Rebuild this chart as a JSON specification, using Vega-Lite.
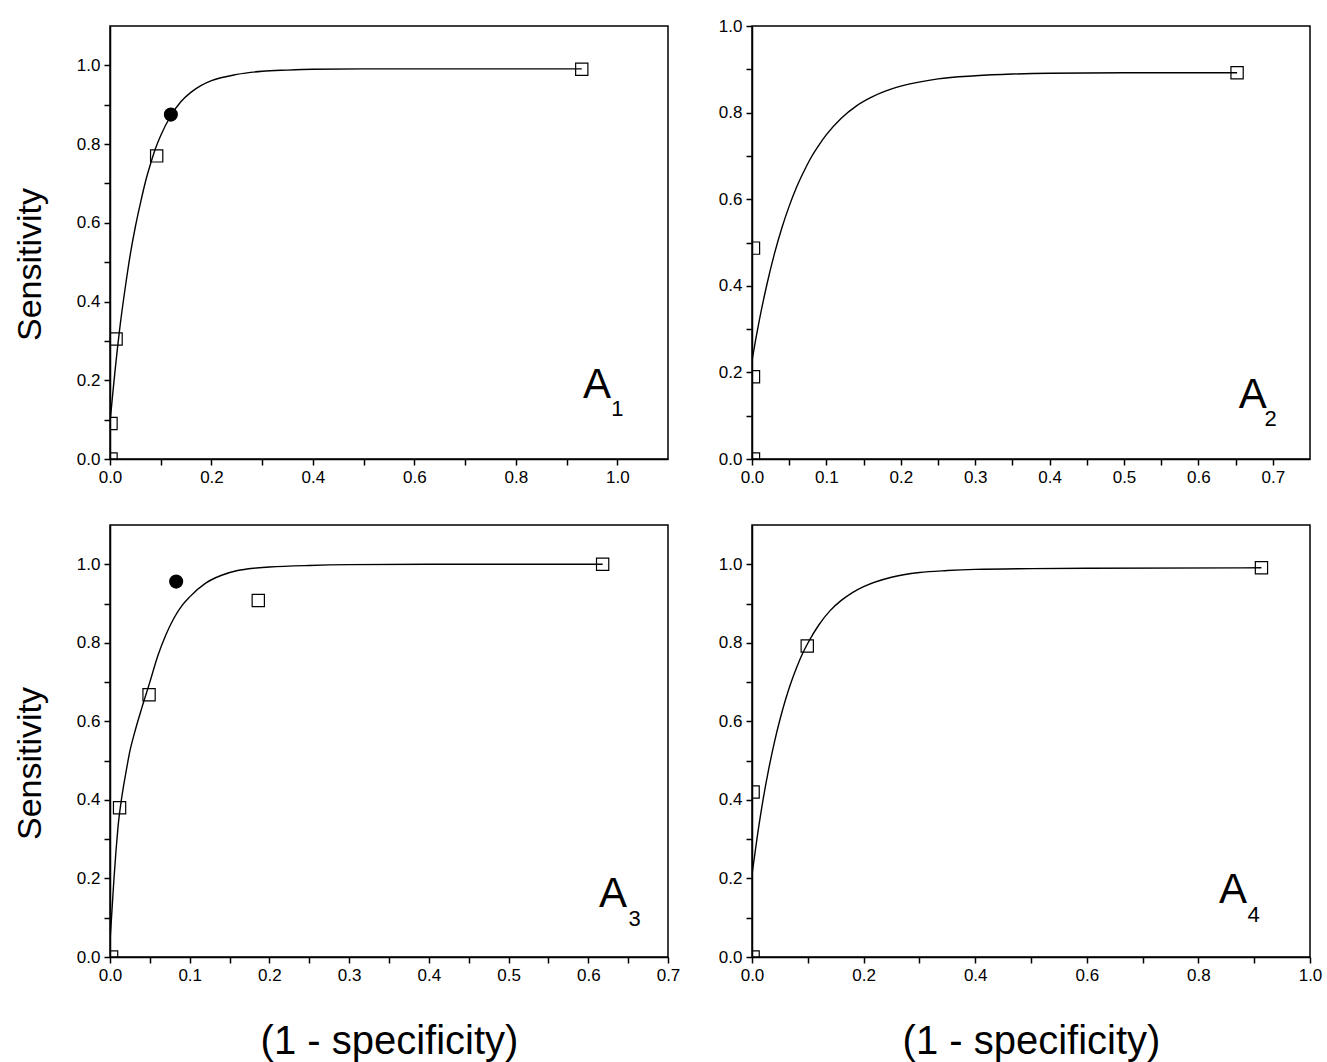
{
  "$schema": "https://vega.github.io/schema/vega-lite/v6.json",
  "background": "white",
  "padding": {"left": 12, "top": 16, "right": 5, "bottom": 0},
  "bounds": "flush",
  "columns": 2,
  "spacing": {"row": 66, "column": 84},
  "config": {
    "font": "Liberation Sans",
    "view": {"stroke": "black", "strokeWidth": 1.5},
    "axis": {
      "domainColor": "black", "domainWidth": 1.5,
      "tickColor": "black", "tickWidth": 1.5, "tickSize": 6,
      "labelColor": "black", "labelFont": "Liberation Sans",
      "labelFontSize": 17, "labelPadding": 4, "labelFlush": false, "labelOverlap": false,
      "grid": false, "titleColor": "black", "titleFont": "Liberation Sans", "titleFontWeight": "normal"
    }
  },
  "concat": [
    {
      "width": 558, "height": 433,
      "encoding": {
        "x": {"field": "fpr", "type": "quantitative", "scale": {"domain": [0, 1.1], "nice": false, "zero": false},
          "axis": {"values": [0,0.1,0.2,0.3,0.4,0.5,0.6,0.7,0.8,0.9,1.0], "format": ".1f", "labelExpr": "round(datum.value*10)%2==0 ? datum.label : ''", "title": null}},
        "y": {"field": "tpr", "type": "quantitative", "scale": {"domain": [0, 1.1], "nice": false, "zero": false},
          "axis": {"values": [0,0.1,0.2,0.3,0.4,0.5,0.6,0.7,0.8,0.9,1.0], "format": ".1f", "labelExpr": "round(datum.value*10)%2==0 ? datum.label : ''", "title": "Sensitivity", "titleFontSize": 34, "titlePadding": 29, "titleY": 238}}
      },
      "layer": [
        {"data": {"values": [
          {"fpr": 0, "tpr": 0.093}, {"fpr": 0.005, "tpr": 0.16}, {"fpr": 0.01, "tpr": 0.225}, {"fpr": 0.015, "tpr": 0.285},
          {"fpr": 0.02, "tpr": 0.34}, {"fpr": 0.03, "tpr": 0.435}, {"fpr": 0.04, "tpr": 0.52}, {"fpr": 0.05, "tpr": 0.59},
          {"fpr": 0.06, "tpr": 0.65}, {"fpr": 0.07, "tpr": 0.705}, {"fpr": 0.08, "tpr": 0.75}, {"fpr": 0.09, "tpr": 0.79},
          {"fpr": 0.1, "tpr": 0.822}, {"fpr": 0.12, "tpr": 0.872}, {"fpr": 0.14, "tpr": 0.908}, {"fpr": 0.16, "tpr": 0.932},
          {"fpr": 0.18, "tpr": 0.949}, {"fpr": 0.2, "tpr": 0.961}, {"fpr": 0.25, "tpr": 0.977}, {"fpr": 0.3, "tpr": 0.985},
          {"fpr": 0.35, "tpr": 0.988}, {"fpr": 0.4, "tpr": 0.99}, {"fpr": 0.5, "tpr": 0.991}, {"fpr": 0.7, "tpr": 0.991},
          {"fpr": 0.93, "tpr": 0.991}]},
          "mark": {"type": "line", "color": "black", "strokeWidth": 1.4, "interpolate": "monotone", "clip": true}},
        {"data": {"values": [
          {"fpr": 0.002, "tpr": 0}, {"fpr": 0.002, "tpr": 0.09}, {"fpr": 0.012, "tpr": 0.305}, {"fpr": 0.092, "tpr": 0.77}, {"fpr": 0.93, "tpr": 0.99}]},
          "mark": {"type": "point", "shape": "square", "filled": false, "color": "black", "size": 150, "strokeWidth": 1.2, "opacity": 1, "clip": true}},
        {"data": {"values": [{"fpr": 0.12, "tpr": 0.875}]},
          "mark": {"type": "point", "shape": "circle", "filled": true, "color": "black", "size": 200, "opacity": 1}},
        {"data": {"values": [{"fpr": 0.96, "tpr": 0.155, "t": "A"}]},
          "mark": {"type": "text", "fontSize": 42, "align": "center", "baseline": "alphabetic", "font": "Liberation Sans", "color": "black"},
          "encoding": {"text": {"field": "t"}}},
        {"data": {"values": [{"fpr": 1.0, "tpr": 0.108, "t": "1"}]},
          "mark": {"type": "text", "fontSize": 22, "align": "center", "baseline": "alphabetic", "font": "Liberation Sans", "color": "black"},
          "encoding": {"text": {"field": "t"}}}
      ]
    },
    {
      "width": 558, "height": 433,
      "encoding": {
        "x": {"field": "fpr", "type": "quantitative", "scale": {"domain": [0, 0.75], "nice": false, "zero": false},
          "axis": {"values": [0,0.05,0.1,0.15,0.2,0.25,0.3,0.35,0.4,0.45,0.5,0.55,0.6,0.65,0.7], "format": ".1f", "labelExpr": "round(datum.value*20)%2==0 ? datum.label : ''", "title": null}},
        "y": {"field": "tpr", "type": "quantitative", "scale": {"domain": [0, 1.0], "nice": false, "zero": false},
          "axis": {"values": [0,0.1,0.2,0.3,0.4,0.5,0.6,0.7,0.8,0.9,1.0], "format": ".1f", "labelExpr": "round(datum.value*10)%2==0 ? datum.label : ''", "title": null}}
      },
      "layer": [
        {"data": {"values": [
          {"fpr": 0, "tpr": 0.227}, {"fpr": 0.005, "tpr": 0.276}, {"fpr": 0.01, "tpr": 0.322}, {"fpr": 0.02, "tpr": 0.403},
          {"fpr": 0.03, "tpr": 0.473}, {"fpr": 0.04, "tpr": 0.533}, {"fpr": 0.05, "tpr": 0.584}, {"fpr": 0.06, "tpr": 0.628},
          {"fpr": 0.07, "tpr": 0.665}, {"fpr": 0.08, "tpr": 0.698}, {"fpr": 0.09, "tpr": 0.725}, {"fpr": 0.1, "tpr": 0.749},
          {"fpr": 0.12, "tpr": 0.787}, {"fpr": 0.14, "tpr": 0.815}, {"fpr": 0.16, "tpr": 0.835}, {"fpr": 0.18, "tpr": 0.85},
          {"fpr": 0.2, "tpr": 0.861}, {"fpr": 0.25, "tpr": 0.878}, {"fpr": 0.3, "tpr": 0.885}, {"fpr": 0.35, "tpr": 0.889},
          {"fpr": 0.4, "tpr": 0.891}, {"fpr": 0.5, "tpr": 0.892}, {"fpr": 0.652, "tpr": 0.892}]},
          "mark": {"type": "line", "color": "black", "strokeWidth": 1.4, "interpolate": "monotone", "clip": true}},
        {"data": {"values": [
          {"fpr": 0.002, "tpr": 0}, {"fpr": 0.002, "tpr": 0.19}, {"fpr": 0.002, "tpr": 0.487}, {"fpr": 0.652, "tpr": 0.892}]},
          "mark": {"type": "point", "shape": "square", "filled": false, "color": "black", "size": 150, "strokeWidth": 1.2, "opacity": 1, "clip": true}},
        {"data": {"values": [{"fpr": 0.673, "tpr": 0.118, "t": "A"}]},
          "mark": {"type": "text", "fontSize": 42, "align": "center", "baseline": "alphabetic", "font": "Liberation Sans", "color": "black"},
          "encoding": {"text": {"field": "t"}}},
        {"data": {"values": [{"fpr": 0.697, "tpr": 0.077, "t": "2"}]},
          "mark": {"type": "text", "fontSize": 22, "align": "center", "baseline": "alphabetic", "font": "Liberation Sans", "color": "black"},
          "encoding": {"text": {"field": "t"}}}
      ]
    },
    {
      "width": 558, "height": 432,
      "encoding": {
        "x": {"field": "fpr", "type": "quantitative", "scale": {"domain": [0, 0.7], "nice": false, "zero": false},
          "axis": {"values": [0,0.05,0.1,0.15,0.2,0.25,0.3,0.35,0.4,0.45,0.5,0.55,0.6,0.65,0.7], "format": ".1f", "labelExpr": "round(datum.value*20)%2==0 ? datum.label : ''", "title": "(1 - specificity)", "titleFontSize": 40, "titlePadding": 38}},
        "y": {"field": "tpr", "type": "quantitative", "scale": {"domain": [0, 1.1], "nice": false, "zero": false},
          "axis": {"values": [0,0.1,0.2,0.3,0.4,0.5,0.6,0.7,0.8,0.9,1.0], "format": ".1f", "labelExpr": "round(datum.value*10)%2==0 ? datum.label : ''", "title": "Sensitivity", "titleFontSize": 34, "titlePadding": 29, "titleY": 238}}
      },
      "layer": [
        {"data": {"values": [
          {"fpr": 0, "tpr": 0.04}, {"fpr": 0.0025, "tpr": 0.12}, {"fpr": 0.005, "tpr": 0.2}, {"fpr": 0.0075, "tpr": 0.27},
          {"fpr": 0.01, "tpr": 0.33}, {"fpr": 0.015, "tpr": 0.41}, {"fpr": 0.02, "tpr": 0.47}, {"fpr": 0.025, "tpr": 0.525},
          {"fpr": 0.03, "tpr": 0.565}, {"fpr": 0.04, "tpr": 0.635}, {"fpr": 0.05, "tpr": 0.7}, {"fpr": 0.06, "tpr": 0.767},
          {"fpr": 0.07, "tpr": 0.82}, {"fpr": 0.08, "tpr": 0.862}, {"fpr": 0.09, "tpr": 0.894}, {"fpr": 0.1, "tpr": 0.917},
          {"fpr": 0.12, "tpr": 0.952}, {"fpr": 0.14, "tpr": 0.972}, {"fpr": 0.16, "tpr": 0.984}, {"fpr": 0.18, "tpr": 0.99},
          {"fpr": 0.2, "tpr": 0.993}, {"fpr": 0.25, "tpr": 0.997}, {"fpr": 0.3, "tpr": 0.999}, {"fpr": 0.4, "tpr": 1.0},
          {"fpr": 0.618, "tpr": 1.0}]},
          "mark": {"type": "line", "color": "black", "strokeWidth": 1.4, "interpolate": "monotone", "clip": true}},
        {"data": {"values": [
          {"fpr": 0.002, "tpr": 0}, {"fpr": 0.012, "tpr": 0.38}, {"fpr": 0.049, "tpr": 0.668}, {"fpr": 0.186, "tpr": 0.908}, {"fpr": 0.618, "tpr": 1.0}]},
          "mark": {"type": "point", "shape": "square", "filled": false, "color": "black", "size": 150, "strokeWidth": 1.2, "opacity": 1, "clip": true}},
        {"data": {"values": [{"fpr": 0.083, "tpr": 0.956}]},
          "mark": {"type": "point", "shape": "circle", "filled": true, "color": "black", "size": 200, "opacity": 1}},
        {"data": {"values": [{"fpr": 0.631, "tpr": 0.128, "t": "A"}]},
          "mark": {"type": "text", "fontSize": 42, "align": "center", "baseline": "alphabetic", "font": "Liberation Sans", "color": "black"},
          "encoding": {"text": {"field": "t"}}},
        {"data": {"values": [{"fpr": 0.658, "tpr": 0.08, "t": "3"}]},
          "mark": {"type": "text", "fontSize": 22, "align": "center", "baseline": "alphabetic", "font": "Liberation Sans", "color": "black"},
          "encoding": {"text": {"field": "t"}}}
      ]
    },
    {
      "width": 558, "height": 432,
      "encoding": {
        "x": {"field": "fpr", "type": "quantitative", "scale": {"domain": [0, 1.0], "nice": false, "zero": false},
          "axis": {"values": [0,0.1,0.2,0.3,0.4,0.5,0.6,0.7,0.8,0.9,1.0], "format": ".1f", "labelExpr": "round(datum.value*10)%2==0 ? datum.label : ''", "title": "(1 - specificity)", "titleFontSize": 40, "titlePadding": 38}},
        "y": {"field": "tpr", "type": "quantitative", "scale": {"domain": [0, 1.1], "nice": false, "zero": false},
          "axis": {"values": [0,0.1,0.2,0.3,0.4,0.5,0.6,0.7,0.8,0.9,1.0], "format": ".1f", "labelExpr": "round(datum.value*10)%2==0 ? datum.label : ''", "title": null}}
      },
      "layer": [
        {"data": {"values": [
          {"fpr": 0, "tpr": 0.21}, {"fpr": 0.01, "tpr": 0.312}, {"fpr": 0.02, "tpr": 0.402}, {"fpr": 0.03, "tpr": 0.479},
          {"fpr": 0.04, "tpr": 0.546}, {"fpr": 0.05, "tpr": 0.604}, {"fpr": 0.06, "tpr": 0.655}, {"fpr": 0.07, "tpr": 0.699},
          {"fpr": 0.08, "tpr": 0.737}, {"fpr": 0.09, "tpr": 0.771}, {"fpr": 0.1, "tpr": 0.799}, {"fpr": 0.12, "tpr": 0.846},
          {"fpr": 0.14, "tpr": 0.882}, {"fpr": 0.16, "tpr": 0.908}, {"fpr": 0.18, "tpr": 0.928}, {"fpr": 0.2, "tpr": 0.943},
          {"fpr": 0.25, "tpr": 0.967}, {"fpr": 0.3, "tpr": 0.979}, {"fpr": 0.35, "tpr": 0.984}, {"fpr": 0.4, "tpr": 0.987},
          {"fpr": 0.5, "tpr": 0.989}, {"fpr": 0.6, "tpr": 0.99}, {"fpr": 0.913, "tpr": 0.991}]},
          "mark": {"type": "line", "color": "black", "strokeWidth": 1.4, "interpolate": "monotone", "clip": true}},
        {"data": {"values": [
          {"fpr": 0.002, "tpr": 0}, {"fpr": 0.002, "tpr": 0.42}, {"fpr": 0.099, "tpr": 0.792}, {"fpr": 0.913, "tpr": 0.991}]},
          "mark": {"type": "point", "shape": "square", "filled": false, "color": "black", "size": 150, "strokeWidth": 1.2, "opacity": 1, "clip": true}},
        {"data": {"values": [{"fpr": 0.862, "tpr": 0.137, "t": "A"}]},
          "mark": {"type": "text", "fontSize": 42, "align": "center", "baseline": "alphabetic", "font": "Liberation Sans", "color": "black"},
          "encoding": {"text": {"field": "t"}}},
        {"data": {"values": [{"fpr": 0.899, "tpr": 0.089, "t": "4"}]},
          "mark": {"type": "text", "fontSize": 22, "align": "center", "baseline": "alphabetic", "font": "Liberation Sans", "color": "black"},
          "encoding": {"text": {"field": "t"}}}
      ]
    }
  ]
}
